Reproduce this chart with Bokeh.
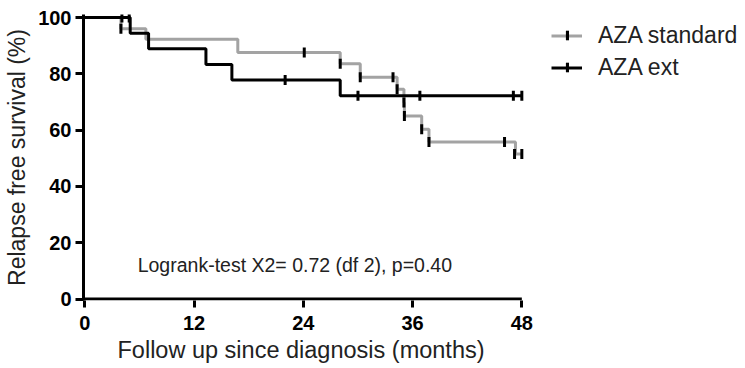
from bokeh.plotting import figure
from bokeh.models import ColumnDataSource, Legend, LegendItem, Label, FixedTicker, Title
from bokeh.embed import file_html
from bokeh.resources import INLINE

# --- data ---
std_times = [0, 3.96, 6.7, 16.8, 28.05, 30.25, 34.3, 35.05, 35.1, 37.0, 37.8, 47.3, 48.0]
std_surv = [100, 96.0, 92.3, 87.6, 83.6, 78.8, 74.5, 69.8, 65.0, 60.3, 55.8, 51.5, 51.5]
std_cens_t = [3.96, 24.1, 28.05, 30.25, 33.85, 34.3, 35.05, 35.1, 37.0, 37.8, 46.1, 47.2, 48.0]
std_cens_s = [96.0, 87.6, 83.6, 78.8, 78.8, 74.5, 69.8, 65.0, 60.3, 55.8, 55.8, 51.5, 51.5]

ext_times = [0, 4.98, 7.0, 13.3, 16.15, 28.05, 48.0]
ext_surv = [100, 94.4, 88.9, 83.3, 77.8, 72.2, 72.2]
ext_cens_t = [4.07, 4.87, 22.0, 30.0, 36.8, 47.07, 48.0]
ext_cens_s = [100, 100, 77.8, 72.2, 72.2, 72.2, 72.2]

x_ticks = [0, 12, 24, 36, 48]
y_ticks = [0, 20, 40, 60, 80, 100]
series_names = ["AZA standard", "AZA ext"]
annotation = "Logrank-test X2= 0.72 (df 2), p=0.40"
x_title = "Follow up since diagnosis (months)"
y_title = "Relapse free survival (%)"

GRAY = "#a3a3a3"
FONT = "Liberation Sans"

p = figure(width=745, height=368, output_backend="svg", toolbar_location=None,
           x_range=(-0.15, 72.35), y_range=(-0.53, 101.07),
           min_border_left=83, min_border_right=2, min_border_top=14, min_border_bottom=68)
p.outline_line_color = None
p.grid.visible = False
p.background_fill_color = "white"

for ax in (p.xaxis[0], p.yaxis[0]):
    ax.axis_line_width = 3
    ax.major_tick_line_width = 3
    ax.major_tick_in = 0
    ax.minor_tick_line_color = None
    ax.major_label_text_font = FONT
    ax.major_label_text_font_style = "bold"
    ax.major_label_text_font_size = "20px"
    ax.major_label_text_color = "black"
    ax.axis_label_text_font = FONT
    ax.axis_label_text_font_style = "normal"
    ax.axis_label_text_font_size = "23px"
    ax.axis_label_text_color = "#222222"

p.xaxis.axis_line_color = None  # drawn below only up to 48 months
p.xaxis.ticker = FixedTicker(ticks=x_ticks)
p.yaxis.ticker = FixedTicker(ticks=y_ticks)
p.xaxis.major_tick_out = 7
p.yaxis.major_tick_out = 8
p.xaxis.major_label_standoff = 8
p.yaxis.major_label_standoff = 4
p.yaxis.axis_label = y_title
p.yaxis.axis_label_standoff = 5

# x axis title, offset so it is centred under the 0-48 month axis
p.add_layout(Title(text=x_title, align="left", offset=34, standoff=4,
                   text_font=FONT, text_font_size="23.5px", text_font_style="normal",
                   text_color="#222222"), "below")

# x axis line from 0 to the last tick
p.segment(x0=[x_ticks[0]], y0=[0], x1=[x_ticks[-1]], y1=[0], line_width=3, line_color="black")

src_std = ColumnDataSource(dict(t=std_times, s=std_surv))
src_ext = ColumnDataSource(dict(t=ext_times, s=ext_surv))

l_std = p.step("t", "s", source=src_std, mode="after", line_width=3, line_color=GRAY)
l_ext = p.step("t", "s", source=src_ext, mode="after", line_width=3, line_color="black")

# censor ticks: small vertical bars
c_std = p.rect(std_cens_t, std_cens_s, width=3, height=10, width_units="screen",
               height_units="screen", fill_color="black", line_color=None)
c_ext = p.rect(ext_cens_t, ext_cens_s, width=3, height=10, width_units="screen",
               height_units="screen", fill_color="black", line_color=None)

legend_style = dict(padding=0, margin=0, spacing=5, label_height=27, label_standoff=16,
                    label_text_font=FONT, label_text_font_size="23px",
                    label_text_color="#222222", border_line_color=None,
                    background_fill_alpha=0)

# legend: line samples and labels
legend = Legend(items=[LegendItem(label=series_names[0], renderers=[l_std]),
                       LegendItem(label=series_names[1], renderers=[l_ext])],
                location=(468, 219), glyph_width=31, glyph_height=27, **legend_style)
p.add_layout(legend)

# legend: the censor tick drawn over each line sample
legend_ticks = Legend(items=[LegendItem(label="", renderers=[c_std]),
                             LegendItem(label="", renderers=[c_ext])],
                      location=(481.5, 220), glyph_width=4, glyph_height=12, **legend_style)
p.add_layout(legend_ticks)

p.add_layout(Label(x=5.8, y=12.0, text=annotation, text_baseline="middle",
                   text_font=FONT, text_font_size="19.5px", text_color="#222222"))

open("out.html", "w").write(file_html(p, INLINE))
